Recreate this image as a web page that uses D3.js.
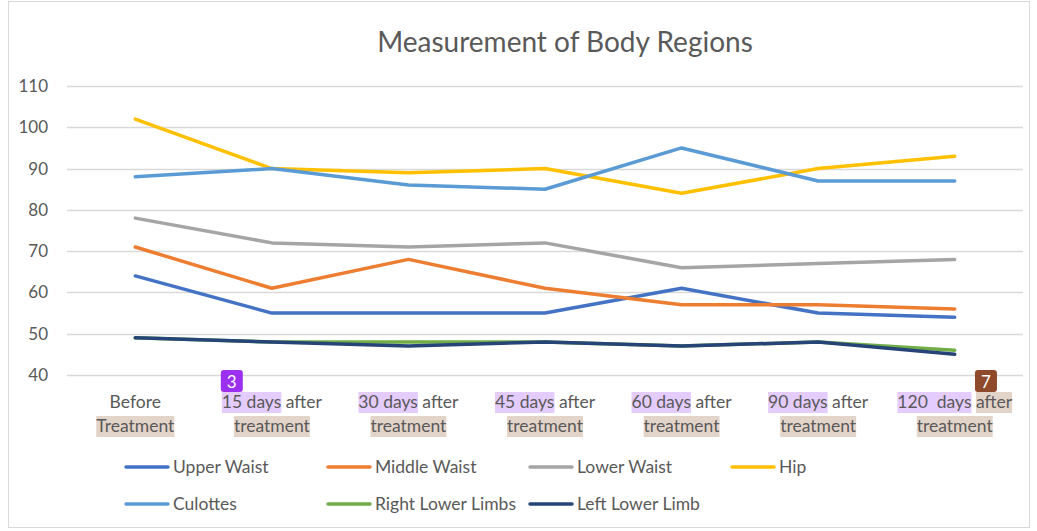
<!DOCTYPE html>
<html>
<head>
<meta charset="utf-8">
<script src="https://cdn.jsdelivr.net/npm/d3@7"></script>
<style>
  body { margin: 0; background: #fff; }
  text { font-family: Lato, "Open Sans", sans-serif; fill: #595959; }
</style>
</head>
<body>
<script>
// ---- data ----
const categories = ["Before Treatment", "15 days after treatment", "30 days after treatment",
  "45 days after treatment", "60 days after treatment", "90 days after treatment", "120 days after treatment"];
// label lines: [text, highlight] 0 none, 1 lavender, 2 tan
const labelLines = [
  [[["Before", 0]], [["Treatment", 2]]],
  [[["15 days", 1], [" after", 0]], [["treatment", 2]]],
  [[["30 days", 1], [" after", 0]], [["treatment", 2]]],
  [[["45 days", 1], [" after", 0]], [["treatment", 2]]],
  [[["60 days", 1], [" after", 0]], [["treatment", 2]]],
  [[["90 days", 1], [" after", 0]], [["treatment", 2]]],
  [[["120  days", 1], [" ", 0], ["after", 2]], [["treatment", 2]]]
];
const seriesNames = ["Upper Waist", "Middle Waist", "Lower Waist", "Hip", "Culottes", "Right Lower Limbs", "Left Lower Limb"];
const upperWaist = [64, 55, 55, 55, 61, 55, 54];
const middleWaist = [71, 61, 68, 61, 57, 57, 56];
const lowerWaist = [78, 72, 71, 72, 66, 67, 68];
const hip = [102, 90, 89, 90, 84, 90, 93];
const culottes = [88, 90, 86, 85, 95, 87, 87];
const rightLowerLimbs = [49, 48, 48, 48, 47, 48, 46];
const leftLowerLimb = [49, 48, 47, 48, 47, 48, 45];
const yTicks = [40, 50, 60, 70, 80, 90, 100, 110];
// badges: [text, category index, line-1 segment index]
const badges = [["3", 1, 0], ["7", 6, 2]];

const seriesValues = [upperWaist, middleWaist, lowerWaist, hip, culottes, rightLowerLimbs, leftLowerLimb];
const colors = ["#4472C4", "#ED7D31", "#A5A5A5", "#FFC000", "#5B9BD5", "#70AD47", "#264478"];
const hlColors = [null, "#E5CCFF", "#E3D4C9"];
const badgeColors = ["#9B30F0", "#8E4A2A"];

const W = 1037, H = 531;
const svg = d3.select("body").append("svg").attr("width", W).attr("height", H);

svg.append("rect").attr("x", 8.5).attr("y", 1.5).attr("width", 1021).attr("height", 526)
  .attr("fill", "#fff").attr("stroke", "#d9d9d9");

svg.append("text").attr("x", 565).attr("y", 52).attr("text-anchor", "middle")
  .style("font-size", "28px").text("Measurement of Body Regions");

const x = d3.scaleBand().domain(categories).range([67, 1023]);
const y = d3.scaleLinear().domain([40, 110]).range([375, 86]);

// grid
svg.append("g").selectAll("line").data(yTicks).enter().append("line")
  .attr("x1", 67).attr("x2", 1023)
  .attr("y1", d => Math.round(y(d)) + 0.5).attr("y2", d => Math.round(y(d)) + 0.5)
  .attr("stroke", "#d9d9d9").attr("stroke-width", 1.3);

svg.append("g").selectAll("text").data(yTicks).enter().append("text")
  .attr("x", 48).attr("y", d => y(d) + 6).attr("text-anchor", "end")
  .style("font-size", "17px").text(d => d);

// category labels with highlights
const labelG = svg.append("g");
const lineY = [408, 432];
const segPos = [];
labelLines.forEach((lines, ci) => {
  const cx = x(categories[ci]) + x.bandwidth() / 2;
  segPos[ci] = [];
  lines.forEach((segs, li) => {
    const g = labelG.append("g");
    const texts = segs.map(s => g.append("text").style("font-size", "17.5px")
      .attr("y", lineY[li]).attr("xml:space", "preserve").text(s[0]));
    const widths = texts.map(t => t.node().getComputedTextLength());
    const total = d3.sum(widths);
    let cur = cx - total / 2;
    segPos[ci][li] = [];
    segs.forEach((s, si) => {
      texts[si].attr("x", cur);
      segPos[ci][li].push(cur);
      if (s[1]) {
        g.insert("rect", "text").attr("x", cur).attr("y", lineY[li] - 16)
          .attr("width", widths[si]).attr("height", 21).attr("fill", hlColors[s[1]]);
      }
      cur += widths[si];
    });
  });
});

badges.forEach((b, i) => {
  const bx = segPos[b[1]][0][b[2]] - 1;
  svg.append("rect").attr("x", bx).attr("y", 370).attr("width", 22).attr("height", 22)
    .attr("rx", 3).attr("fill", badgeColors[i]);
  svg.append("text").attr("x", bx + 11).attr("y", 388).attr("text-anchor", "middle")
    .style("font-size", "17px").style("fill", "#fff").text(b[0]);
});

// lines
const line = d3.line().x((d, i) => x(categories[i]) + x.bandwidth() / 2).y(d => y(d));
svg.append("g").selectAll("path").data(seriesValues).enter().append("path")
  .attr("d", d => line(d)).attr("fill", "none")
  .attr("stroke", (d, i) => colors[i]).attr("stroke-width", 3.5)
  .attr("stroke-linejoin", "round").attr("stroke-linecap", "round");

// legend
const legend = svg.append("g").selectAll("g").data(seriesNames).enter().append("g")
  .attr("transform", (d, i) => `translate(${126 + (i % 4) * 202},${i < 4 ? 467 : 504})`);
legend.append("line").attr("x1", 0).attr("x2", 42).attr("y1", 0).attr("y2", 0)
  .attr("stroke", (d, i) => colors[i]).attr("stroke-width", 3.5).attr("stroke-linecap", "round");
legend.append("text").attr("x", 47).attr("y", 6).style("font-size", "17.5px").text(d => d);
</script>
</body>
</html>
